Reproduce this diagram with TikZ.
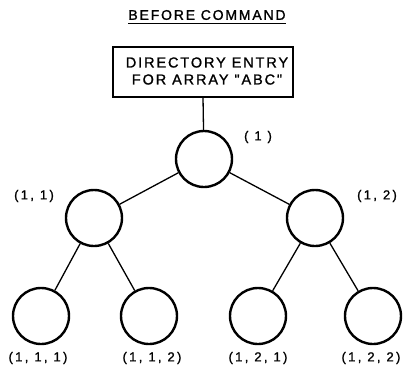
\documentclass[tikz,border=0pt]{standalone}
\usepackage{fontspec}
\setmainfont{Liberation Sans}
\newfontfamily\wide[LetterSpace=13,FakeBold=1.2]{Liberation Sans}
\newfontfamily\widelbl[LetterSpace=18,FakeBold=1.2]{Liberation Sans}
\begin{document}
\begin{tikzpicture}[x=1pt,y=-1pt,
  vert/.style={circle,draw,line width=2.4pt,minimum size=56pt,inner sep=0pt},
  lbl/.style={font=\widelbl\fontsize{13}{13}\selectfont,inner sep=0pt},
  edge/.style={line width=1.3pt}]
\useasboundingbox (0,0) rectangle (408,381);
% heading
\node[font=\wide\fontsize{14}{14}\selectfont,inner sep=0pt] (title) at (207,15) {BEFORE COMMAND};
\draw[line width=1.1pt] (128,23.5) -- (286,23.5);
% directory entry
\draw[line width=2.6pt] (113,47) rectangle (293,97);
\coordinate (boxb) at (203,97);
\node[font=\wide\fontsize{14.5}{17}\selectfont,inner sep=0pt,align=center] (dir) at (207,71) {DIRECTORY ENTRY\\FOR ARRAY {"}ABC{"}};
% tree vertices
\node[vert] (n1) at (204,159) {};
\node[vert] (n11) at (94,218) {};
\node[vert] (n12) at (315,218) {};
\node[vert] (n111) at (41,316) {};
\node[vert] (n112) at (149,316) {};
\node[vert] (n121) at (258,316) {};
\node[vert] (n122) at (373,316) {};
% connectors
\draw[edge] (boxb) -- (n1);
\draw[edge] (n1) -- (n11);
\draw[edge] (n1) -- (n12);
\draw[edge] (n11) -- (n111);
\draw[edge] (n11) -- (n112);
\draw[edge] (n12) -- (n121);
\draw[edge] (n12) -- (n122);
% subscripts
\node[lbl] (l1) at (258,137) {( 1 )};
\node[lbl] (l11) at (34,196) {(1, 1)};
\node[lbl] (l12) at (377,196) {(1, 2)};
\node[lbl] (l111) at (38,358) {(1, 1, 1)};
\node[lbl] (l112) at (152,358) {(1, 1, 2)};
\node[lbl] (l121) at (258,358) {(1, 2, 1)};
\node[lbl] (l122) at (371,358) {(1, 2, 2)};
\end{tikzpicture}
\end{document}
